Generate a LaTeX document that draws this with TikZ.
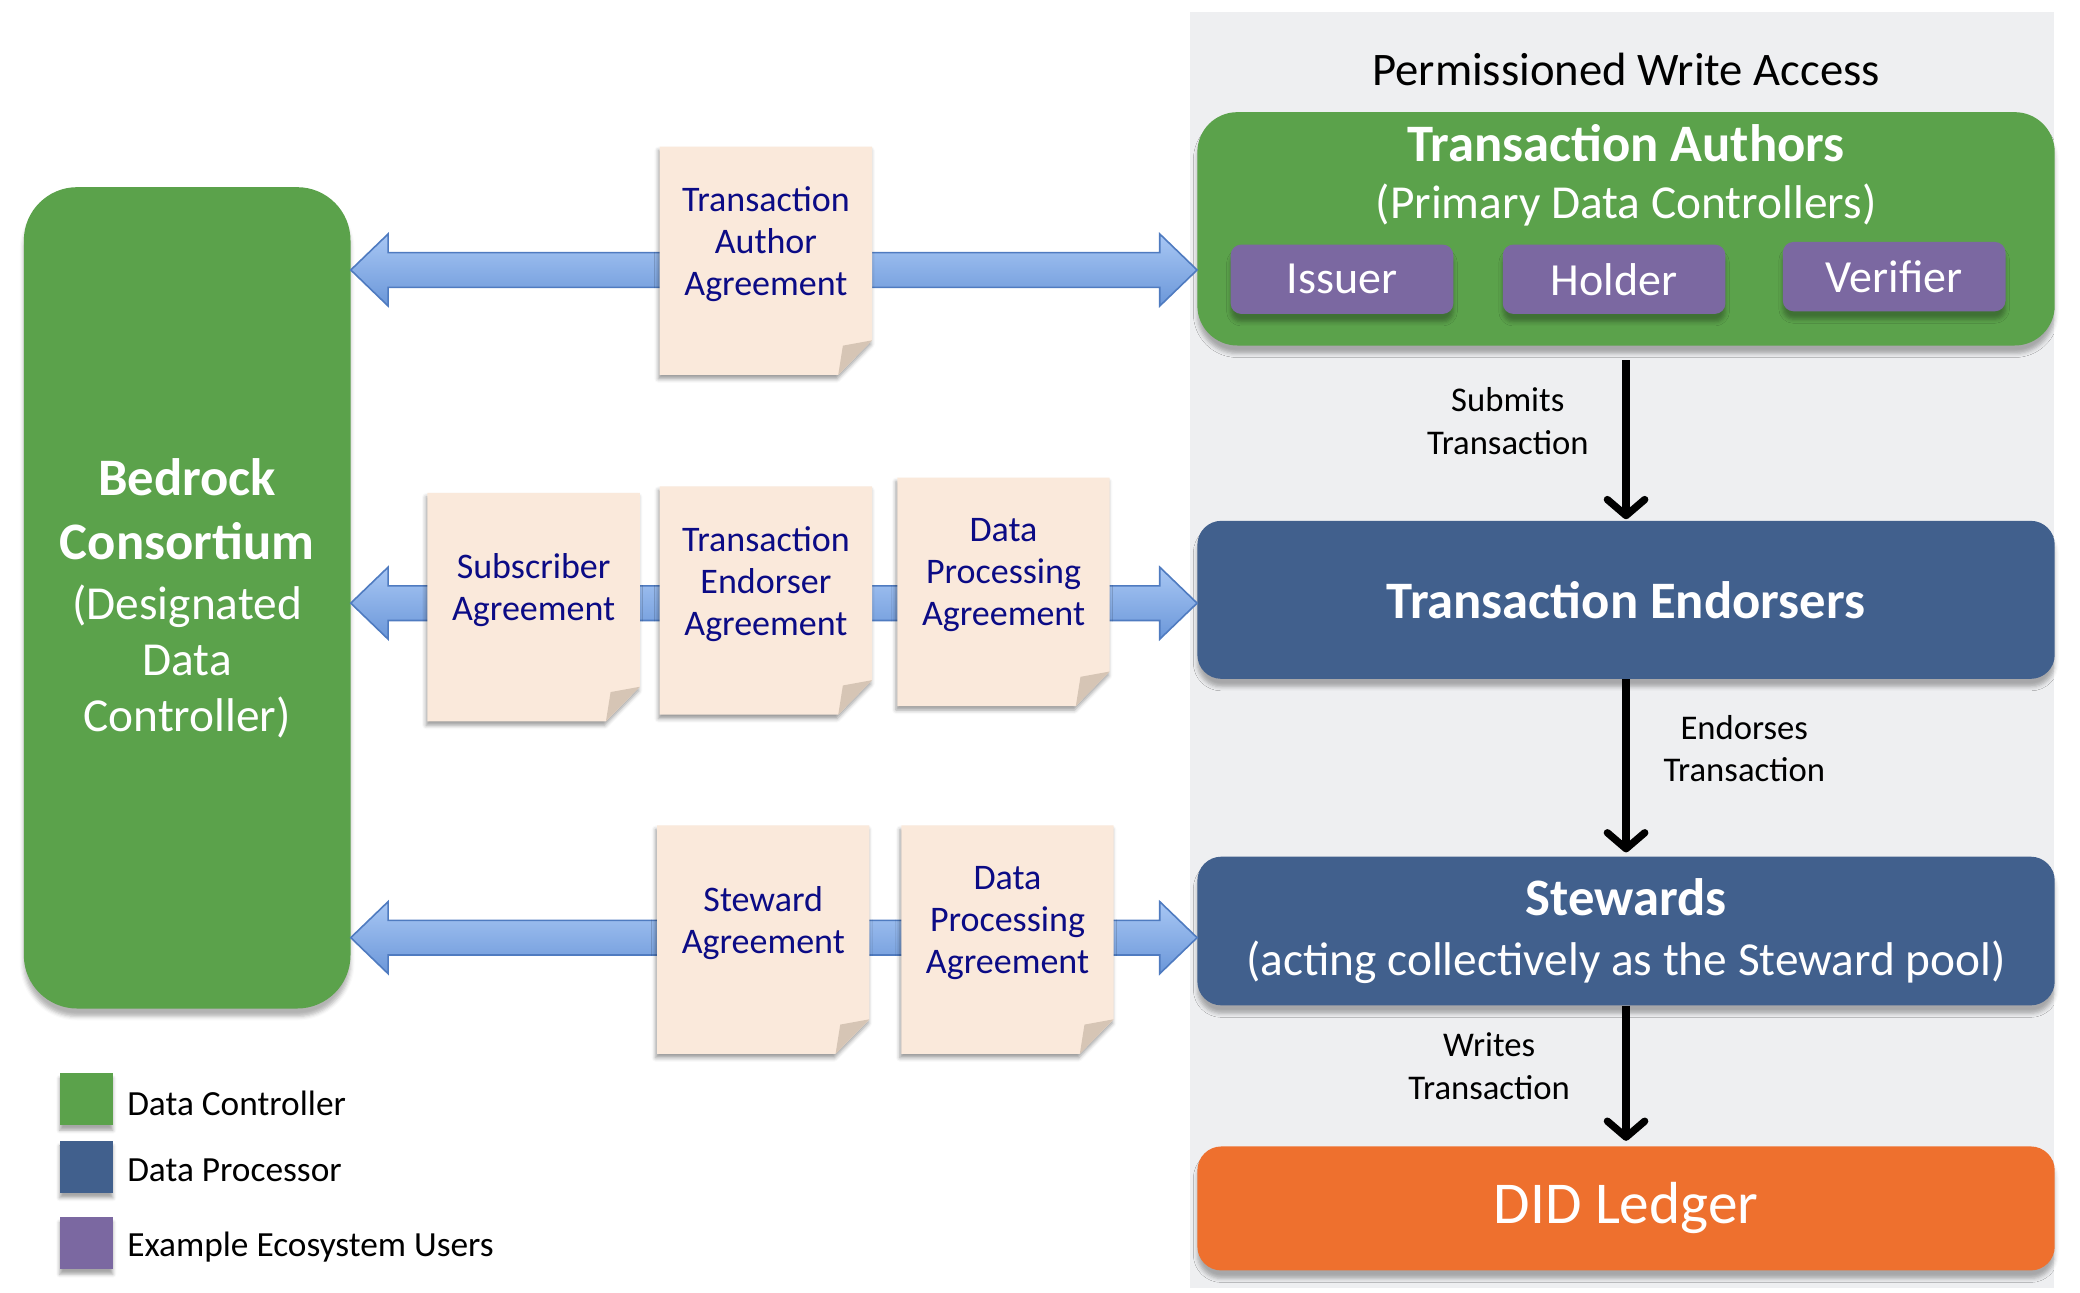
\documentclass[tikz,border=0pt]{standalone}
\usepackage{fontspec}
\setmainfont{Carlito}
\usetikzlibrary{positioning, calc, arrows.meta, shadows.blur}
\definecolor{ctrl}{HTML}{5BA24B}
\definecolor{proc}{HTML}{41608D}
\definecolor{users}{HTML}{7B68A1}
\definecolor{ledgercol}{HTML}{EE702E}
\definecolor{panelcol}{HTML}{EEEFF1}
\definecolor{papercol}{HTML}{FAE9DB}
\definecolor{foldcol}{HTML}{D6C5B5}
\definecolor{doctext}{HTML}{0B0B85}
\definecolor{arrtop}{HTML}{A8C7F4}
\definecolor{arrbot}{HTML}{6B97D9}
\definecolor{arredge}{HTML}{4F7BC0}
\tikzset{
	softshadow/.style={blur shadow={shadow xshift=0pt, shadow yshift=-6pt, shadow blur radius=3pt, shadow opacity=30}},
	block/.style={rectangle, text=white, align=center, minimum width=643pt, rounded corners=18pt, softshadow},
	ctrlblock/.style={block, fill=ctrl},
	procblock/.style={block, fill=proc, font=\fontsize{39.5}{45}\selectfont},
	user/.style={rectangle, fill=users, text=white, rounded corners=8pt, minimum width=167pt, minimum height=52pt, font=\fontsize{34.5}{40}\selectfont, softshadow},
	paper/.style={fill=papercol, blur shadow={shadow xshift=-1pt, shadow yshift=-3pt, shadow blur radius=3pt, shadow opacity=40}},
	doc/.style={text=doctext, align=center, font=\fontsize{27}{31.5}\selectfont},
	flowlabel/.style={align=center, font=\fontsize{26}{32}\selectfont},
	flow/.style={line width=5.5pt, -{Straight Barb[length=12pt, width=28pt, round]}},
	dblarrow/.style={top color=arrtop, bottom color=arrbot, draw=arredge, line width=1.2pt,
		to path={let \p1=(\tikztostart), \p2=(\tikztotarget) in
			(\x1,\y1) -- (\x1+28pt,\y1+27pt) -- (\x1+28pt,\y1+13pt) -- (\x2-28pt,\y1+13pt)
			-- (\x2-28pt,\y1+27pt) -- (\x2,\y1) -- (\x2-28pt,\y1-27pt) -- (\x2-28pt,\y1-13pt)
			-- (\x1+28pt,\y1-13pt) -- (\x1+28pt,\y1-27pt) -- cycle}},
	legendsq/.style={rectangle, minimum width=40pt, minimum height=39pt, blur shadow={shadow xshift=0pt, shadow yshift=-4pt, shadow blur radius=2.5pt, shadow opacity=35}},
	legendtext/.style={font=\fontsize{26.5}{32}\selectfont, yshift=-3pt}
}

\begin{document}
\begin{tikzpicture}[x=0.9955pt, y=0.9955pt]
	\useasboundingbox (0,0) rectangle (1567,973.4);
	% right column
	\node[fill=panelcol, minimum width=648pt, minimum height=957pt] (panel) at (1222,484) {};
	\node[font=\fontsize{35}{40}\selectfont] (pwa) at (1225,921) {Permissioned Write Access};
	
	\node[ctrlblock, minimum height=175pt, rounded corners=30pt] (authors) at (1225,801) {};
	\node[text=white, align=center, font=\fontsize{35.5}{43}\selectfont] (authtitle) at (1225,841.5) {{\fontsize{39.5}{43}\bfseries Transaction Authors}\\(Primary Data Controllers)};
	\node[user] (issuer) at (1011,763) {Issuer};
	\node[user] (holder) at (1216,763) {Holder};
	\node[user] (verifier) at (1427,765) {Verifier};
	
	\node[procblock, minimum height=118.5pt] (endorsers) at (1225,521.5) {\bfseries Transaction Endorsers};
	\node[procblock, minimum height=111.5pt, font=\fontsize{35.5}{45}\selectfont] (stewards) at (1225,272) {{\fontsize{39.5}{45}\bfseries Stewards}\\(acting collectively as the Steward pool)};
	\node[block, fill=ledgercol, minimum height=93pt, font=\fontsize{44.5}{50}\selectfont] (ledger) at (1225,63) {DID Ledger};
	
	\draw[flow] ([yshift=-11pt]authors.south) -- ([yshift=1pt]endorsers.north)
		node[flowlabel, pos=0.38, left=22pt] (submits) {Submits\\Transaction};
	\draw[flow] (endorsers.south) -- ([yshift=3pt]stewards.north)
		node[flowlabel, pos=0.4, right=22pt] (endorses) {Endorses\\Transaction};
	\draw[flow] (stewards.south) -- ([yshift=4pt]ledger.north)
		node[flowlabel, pos=0.45, left=36pt] (writes) {Writes\\Transaction};
	
	% consortium
	\node[ctrlblock, minimum width=245pt, minimum height=616pt, rounded corners=40pt, font=\fontsize{35.5}{42}\selectfont] (bedrock) at (141,523)
		{{\fontsize{39.5}{48}\bfseries Bedrock}\\[6pt]{\fontsize{39.5}{48}\bfseries Consortium}\\[3pt](Designated\\Data\\Controller)};
	
	% agreements
	\coordinate (row1) at (0,770);
	\coordinate (row2) at (0,519);
	\coordinate (row3) at (0,267);
	\path[dblarrow] (bedrock.east |- row1) to (authors.west |- row1);
	\path[dblarrow] (bedrock.east |- row2) to (endorsers.west |- row2);
	\path[dblarrow] (bedrock.east |- row3) to (stewards.west |- row3);
	
	\foreach \n/\px/\py/\txt in {taa/577/777/{Transaction\\Author\\Agreement},
		sub/402/516/{Subscriber\\Agreement},
		tea/577/521/{Transaction\\Endorser\\Agreement},
		dpa1/756/527.5/{Data\\Processing\\Agreement},
		stw/575/265.5/{Steward\\Agreement},
		dpa2/759/265.5/{Data\\Processing\\Agreement}}
	{
		\fill[paper] (\px-80,\py+86) -- (\px+80,\py+86) -- (\px+80,\py-60) -- (\px+54.5,\py-86) -- (\px-80,\py-86) -- cycle;
		\fill[foldcol] (\px+80,\py-60) -- (\px+58,\py-64) -- (\px+54.5,\py-86) -- cycle;
		\node[doc] (\n) at (\px,\py+12.5) {\txt};
	}
	
	% legend
	\node[legendsq, fill=ctrl] (lgctrl) at (65,145.5) {};
	\node[legendsq, fill=proc] (lgproc) at (65,94.5) {};
	\node[legendsq, fill=users] (lgusers) at (65,37) {};
	\node[legendtext, right=7pt of lgctrl] (lgctrltxt) {Data Controller};
	\node[legendtext, right=7pt of lgproc] (lgproctxt) {Data Processor};
	\node[legendtext, right=7pt of lgusers] (lguserstxt) {Example Ecosystem Users};
\end{tikzpicture}
\end{document}
